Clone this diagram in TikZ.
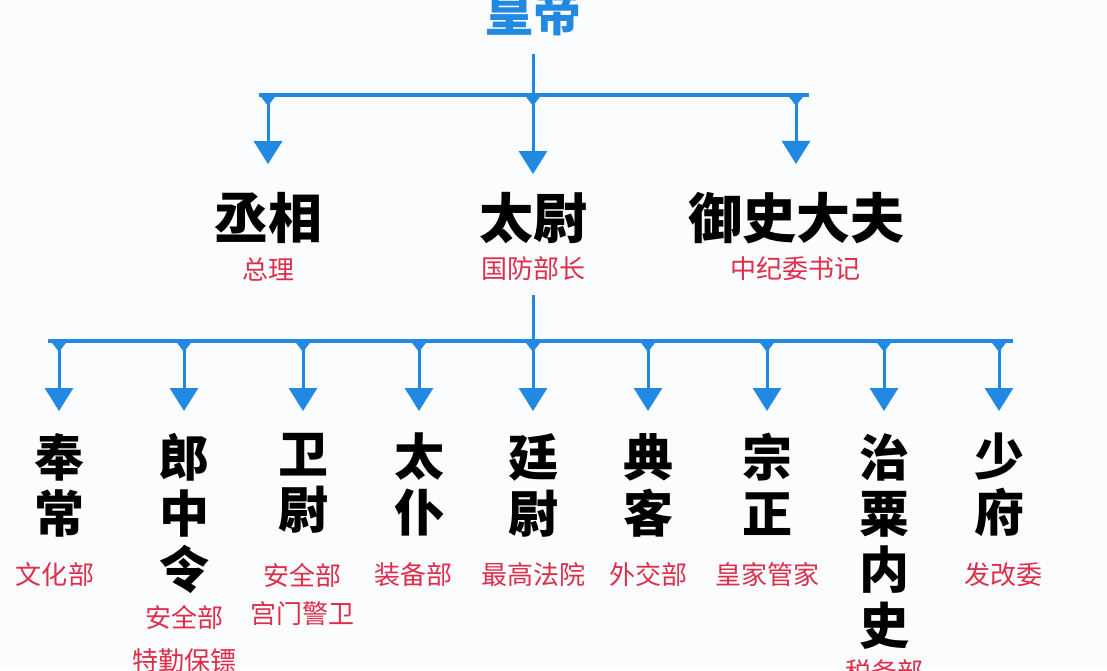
\documentclass[tikz,border=0pt]{standalone}
\usepackage{fontspec}
\newfontfamily\cjk{Noto Sans CJK SC}
\usepackage{tikz}
\usetikzlibrary{arrows.meta}
\definecolor{lineblue}{RGB}{33,137,226}
\definecolor{rolered}{RGB}{221,46,74}
\definecolor{paper}{RGB}{251,252,254}

\begin{document}
\begin{tikzpicture}[x=1pt,y=-1pt,
		emp/.style={font=\cjk\bfseries\fontsize{48}{52}\selectfont,text=lineblue,inner sep=0pt},
		rank/.style={font=\cjk\bfseries\fontsize{54}{60}\selectfont,inner sep=0pt},
		dept/.style={font=\cjk\bfseries\fontsize{50}{56}\selectfont,align=center,anchor=north,inner sep=0pt},
		role/.style={font=\cjk\fontsize{26}{38}\selectfont,text=rolered,align=center,inner sep=0pt},
		link/.style={draw=lineblue,line width=3pt},
		bar/.style={draw=lineblue,line width=4pt},
		arr/.style={link,{Triangle[reversed,width=16pt,length=11pt]}-{Triangle[width=28pt,length=23pt]}}]
			\useasboundingbox (0,0) rectangle (1107,670);
			\clip (0,0) rectangle (1107,670);
			\fill[paper] (0,0) rectangle (1107,670);
			
			%emperor
			\node[emp] (hd) at (533,13) {皇帝};
			
			%three lords
			\node[rank] (cx) at (268,218) {丞相};
			\node[rank] (tw) at (533,218) {太尉};
			\node[rank] (yd) at (796,218) {御史大夫};
			\node[role] (cxr) at (268,269) {总理};
			\node[role] (twr) at (533,269) {国防部长};
			\node[role] (ydr) at (795,269) {中纪委书记};
			
			\coordinate (bar1) at (533,95);
			\draw[link,shorten <=18pt] (hd.south) -- (bar1);
			\draw[bar,shorten <=-9pt,shorten >=-13pt] (cx.north |- bar1) -- (yd.north |- bar1);
			\draw[arr,shorten >=28pt] (cx.north |- bar1) -- (cx.north);
			\draw[arr,shorten >=18pt] (tw.north |- bar1) -- (tw.north);
			\draw[arr,shorten >=28pt] (yd.north |- bar1) -- (yd.north);
			
			%nine ministers
			\node[dept] (fc) at (59,433) {奉\\常};
			\node[dept] (lz) at (184,433) {郎\\中\\令};
			\node[dept] (ww) at (303,433) {卫\\尉};
			\node[dept] (tp) at (419,433) {太\\仆};
			\node[dept] (tyw) at (533,433) {廷\\尉};
			\node[dept] (dk) at (648,433) {典\\客};
			\node[dept] (zz) at (767,433) {宗\\正};
			\node[dept] (zs) at (884,433) {治\\粟\\内\\史};
			\node[dept] (sf) at (999,433) {少\\府};
			
			\node[role] (fcr) at (55,575) {文化部};
			\node[role] (lzr) at (184,639) {安全部\\[5pt]特勤保镖};
			\node[role] (wwr) at (302,594) {安全部\\宫门警卫};
			\node[role] (tpr) at (413,575) {装备部};
			\node[role] (tywr) at (533,575) {最高法院};
			\node[role] (dkr) at (648,575) {外交部};
			\node[role] (zzr) at (767,575) {皇家管家};
			\node[role] (zsr) at (884,672) {税务部};
			\node[role] (sfr) at (1003,575) {发改委};
			
			\coordinate (bar2) at (533,341);
			\draw[link,shorten <=14pt] (twr.south) -- (bar2);
			\draw[bar,shorten <=-11pt,shorten >=-14pt] (fc.north |- bar2) -- (sf.north |- bar2);
			\draw[arr,shorten >=22pt] (fc.north |- bar2) -- (fc.north);
			\draw[arr,shorten >=22pt] (lz.north |- bar2) -- (lz.north);
			\draw[arr,shorten >=22pt] (ww.north |- bar2) -- (ww.north);
			\draw[arr,shorten >=22pt] (tp.north |- bar2) -- (tp.north);
			\draw[arr,shorten >=22pt] (tyw.north |- bar2) -- (tyw.north);
			\draw[arr,shorten >=22pt] (dk.north |- bar2) -- (dk.north);
			\draw[arr,shorten >=22pt] (zz.north |- bar2) -- (zz.north);
			\draw[arr,shorten >=22pt] (zs.north |- bar2) -- (zs.north);
			\draw[arr,shorten >=22pt] (sf.north |- bar2) -- (sf.north);
	\end{tikzpicture}
\end{document}
